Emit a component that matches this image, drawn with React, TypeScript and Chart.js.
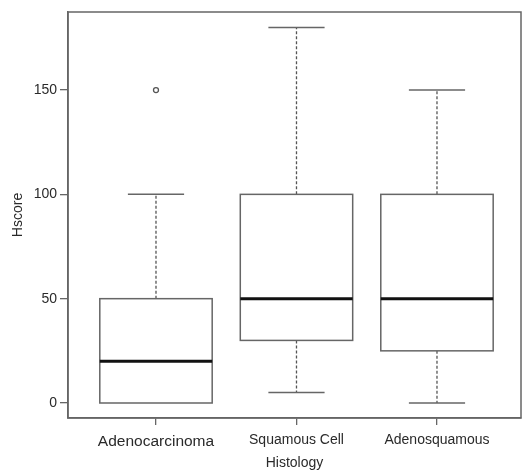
import React, { useEffect, useRef } from "react";
import { Chart, registerables } from "chart.js";

Chart.register(...registerables);

const categories = ["Adenocarcinoma", "Squamous Cell", "Adenosquamous"];
const mins = [0, 5, 0];
const q1s = [0, 30, 25];
const medians = [20, 50, 50];
const q3s = [50, 100, 100];
const maxs = [100, 180, 150];
const outliers: number[][] = [[150], [], []];
const yTicks = [0, 50, 100, 150];
const yTitle = "Hscore";
const xTitle = "Histology";

const FONT = "'Liberation Sans', Arial, sans-serif";
const LINE = "#666666";
const TEXT = "#2a2a2a";

const boxPlugin = {
  id: "boxDraw",
  beforeDatasetsDraw(chart: any) {
    const { ctx, scales } = chart;
    const xs = scales.x;
    const ys = scales.y;
    const half = 0.4;
    const capHalf = 0.2;
    ctx.save();
    categories.forEach((_, i) => {
      const c = i + 1;
      const xl = xs.getPixelForValue(c - half);
      const xr = xs.getPixelForValue(c + half);
      const xc = xs.getPixelForValue(c);
      const cl = xs.getPixelForValue(c - capHalf);
      const cr = xs.getPixelForValue(c + capHalf);
      const yq1 = ys.getPixelForValue(q1s[i]);
      const yq3 = ys.getPixelForValue(q3s[i]);
      const ymed = ys.getPixelForValue(medians[i]);
      const ymin = ys.getPixelForValue(mins[i]);
      const ymax = ys.getPixelForValue(maxs[i]);

      ctx.strokeStyle = "#555555";
      ctx.lineWidth = 1.3;
      ctx.setLineDash([3, 2]);
      if (maxs[i] > q3s[i]) {
        ctx.beginPath();
        ctx.moveTo(xc, yq3);
        ctx.lineTo(xc, ymax);
        ctx.stroke();
      }
      if (mins[i] < q1s[i]) {
        ctx.beginPath();
        ctx.moveTo(xc, yq1);
        ctx.lineTo(xc, ymin);
        ctx.stroke();
      }
      ctx.setLineDash([]);
      ctx.strokeStyle = LINE;
      ctx.lineWidth = 1.5;
      if (maxs[i] > q3s[i]) {
        ctx.beginPath();
        ctx.moveTo(cl, ymax);
        ctx.lineTo(cr, ymax);
        ctx.stroke();
      }
      if (mins[i] < q1s[i]) {
        ctx.beginPath();
        ctx.moveTo(cl, ymin);
        ctx.lineTo(cr, ymin);
        ctx.stroke();
      }
      ctx.fillStyle = "#ffffff";
      ctx.fillRect(xl, yq3, xr - xl, yq1 - yq3);
      ctx.strokeRect(xl, yq3, xr - xl, yq1 - yq3);
      ctx.strokeStyle = "#111111";
      ctx.lineWidth = 3;
      ctx.beginPath();
      ctx.moveTo(xl, ymed);
      ctx.lineTo(xr, ymed);
      ctx.stroke();
    });
    ctx.restore();
  },
  afterDraw(chart: any) {
    const { ctx, chartArea } = chart;
    ctx.save();
    ctx.strokeStyle = LINE;
    ctx.lineWidth = 1.5;
    ctx.strokeRect(
      chartArea.left,
      chartArea.top,
      chartArea.right - chartArea.left,
      chartArea.bottom - chartArea.top
    );
    ctx.restore();
  },
};

export default function App() {
  const ref = useRef<HTMLCanvasElement | null>(null);
  useEffect(() => {
    if (!ref.current) return;
    const outlierPoints: { x: number; y: number }[] = [];
    outliers.forEach((arr, i) => arr.forEach((v) => outlierPoints.push({ x: i + 1, y: v })));
    const chart = new Chart(ref.current, {
      type: "scatter",
      data: {
        datasets: [
          {
            data: outlierPoints,
            pointStyle: "circle",
            pointRadius: 2.5,
            pointBorderWidth: 1.3,
            borderColor: "#555555",
            backgroundColor: "rgba(255,255,255,1)",
          },
        ],
      },
      options: {
        animation: false,
        responsive: false,
        devicePixelRatio: 1,
        layout: { autoPadding: false, padding: { top: 12, right: 1, bottom: 0, left: 0 } },
        plugins: { legend: { display: false }, tooltip: { enabled: false } },
        scales: {
          x: {
            type: "linear",
            min: 0.3737,
            max: 3.598,
            afterBuildTicks: (s: any) => {
              s.ticks = categories.map((_, i) => ({ value: i + 1 }));
            },
            afterFit: (s: any) => {
              s.height = 52;
              s.paddingLeft = 0;
              s.paddingRight = 0;
            },
            ticks: {
              autoSkip: false,
              maxRotation: 0,
              padding: 7,
              color: TEXT,
              font: (ctx: any) => ({
                family: FONT,
                size: ctx.index === 0 ? 15.5 : 14,
              }),
              callback: (v: any) => categories[Math.round(v) - 1] ?? "",
            },
            grid: {
              drawOnChartArea: false,
              drawTicks: true,
              tickLength: 7,
              color: LINE,
              lineWidth: 1.3,
            },
            border: { display: true, color: LINE, width: 1.5 },
            title: {
              display: true,
              text: xTitle,
              color: TEXT,
              font: { family: FONT, size: 14, lineHeight: 1 },
              padding: { top: 0, bottom: 0 },
            },
          },
          y: {
            type: "linear",
            min: -7.19,
            max: 187.4,
            afterBuildTicks: (s: any) => {
              s.ticks = yTicks.map((v) => ({ value: v }));
            },
            afterFit: (s: any) => {
              s.width = 68;
              s.paddingTop = 0;
              s.paddingBottom = 0;
            },
            ticks: {
              padding: 3,
              color: TEXT,
              font: { family: FONT, size: 14 },
            },
            grid: {
              drawOnChartArea: false,
              drawTicks: true,
              tickLength: 8,
              color: LINE,
              lineWidth: 1.3,
            },
            border: { display: true, color: LINE, width: 1.5 },
            title: {
              display: true,
              text: yTitle,
              color: TEXT,
              font: { family: FONT, size: 14, lineHeight: 1 },
              padding: { top: 11, bottom: 0 },
            },
          },
        },
      },
      plugins: [boxPlugin],
    });
    return () => chart.destroy();
  }, []);
  return (
    <div style={{ position: "absolute", left: 0, top: 0, width: 522, height: 470, background: "#fff" }}>
      <canvas ref={ref} width={522} height={470} style={{ display: "block" }} />
    </div>
  );
}
